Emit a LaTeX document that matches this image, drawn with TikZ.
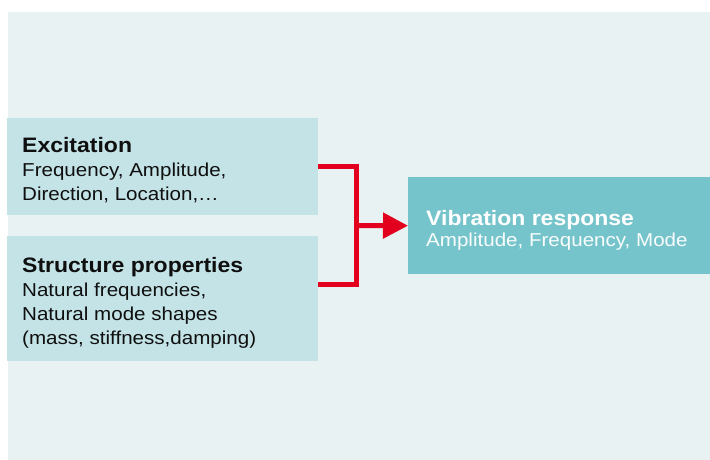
\documentclass[tikz,border=0pt]{standalone}
\usepackage{fontspec}
\setmainfont[FakeStretch=1.1]{Liberation Sans}
\usetikzlibrary{arrows.meta}
\definecolor{bgc}{RGB}{232,242,242}
\definecolor{lightbox}{RGB}{196,227,231}
\definecolor{darkbox}{RGB}{118,196,203}
\definecolor{redc}{RGB}{226,0,30}
\definecolor{txt}{RGB}{15,15,15}
\tikzset{
  boxlight/.style={fill=lightbox, draw=none, anchor=north west, inner sep=0pt},
  boxdark/.style={fill=darkbox, draw=none, anchor=north west, inner sep=0pt},
  ttl/.style={anchor=base west, inner sep=0pt, font=\fontsize{20.9}{24}\selectfont\bfseries},
  body/.style={anchor=base west, inner sep=0pt, font=\fontsize{18.7}{24}\selectfont},
  conn/.style={draw=redc, line width=5pt, line join=miter},
}
\begin{document}
\begin{tikzpicture}[x=1pt,y=-1pt]
\useasboundingbox (0,0) rectangle (710,460);
\fill[bgc] (8,12) rectangle (710,460);
% boxes
\node[boxlight, minimum width=311pt, minimum height=97pt] (exc) at (7,118) {};
\node[boxlight, minimum width=311pt, minimum height=125pt] (struct) at (7,236) {};
\node[boxdark, minimum width=302pt, minimum height=97pt] (vib) at (408,177) {};
% texts
\node[ttl, text=txt] (t1) at (22,152.5) {Excitation};
\node[body, text=txt] (t2) at (22,176.5) {Frequency, Amplitude,};
\node[body, text=txt] (t3) at (22,200.5) {Direction, Location,…};
\node[ttl, text=txt] (s1) at (22,272.5) {Structure properties};
\node[body, text=txt] (s2) at (22,296.5) {Natural frequencies,};
\node[body, text=txt] (s3) at (22,320.5) {Natural mode shapes};
\node[body, text=txt] (s4) at (22,344.5) {(mass, stiffness,damping)};
\node[ttl, text=white] (v1) at (426,225.5) {Vibration response};
\node[body, text=white!95!darkbox] (v2) at (426,246.5) {Amplitude, Frequency, Mode};
% connectors
\coordinate (j) at (356.5,225.5);
\coordinate (sj) at (318,284.5);
\draw[conn] (exc.east) -| (j) |- (sj);
\draw[conn, -{Triangle[length=25pt,width=25pt]}] (j) -- (vib.west);
\end{tikzpicture}
\end{document}
